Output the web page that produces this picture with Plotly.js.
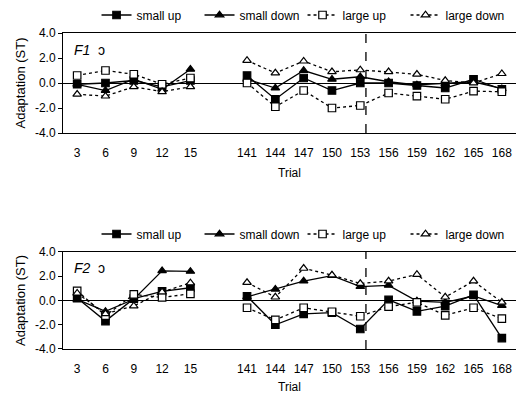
<!DOCTYPE html>
<html>
<head>
<meta charset="utf-8">
<script src="https://cdn.plot.ly/plotly-3.0.1.min.js"></script>
<style>html,body{margin:0;padding:0;background:#fff;}#chart{width:516px;height:394px;}</style>
</head>
<body>
<div id="chart"></div>
<script>
// Categories (blank " " is the visual gap between trial 15 and 141)
const trials = ["3","6","9","12","15"," ","141","144","147","150","153","156","159","162","165","168"];
const seriesNames = ["small up","small down","large up","large down"];
const yTickVals = [-4, -2, 0, 2, 4];
const yTickText = ["-4.0", "-2.0", "0.0", "2.0", "4.0"];
const panelLabels = ["F1", "F2"];
const vowel = "ɔ";

// Panel F1
const smallUpF1   = [-0.1, 0.0, 0.2, -0.3, 0.2, null, 0.6, -1.3, 0.4, -0.6, 0.0, 0.0, -0.2, -0.4, 0.3, -0.5];
const smallDownF1 = [-0.1, -0.6, 0.3, -0.5, 1.1, null, 0.3, -0.4, 1.0, 0.3, 0.5, 0.1, -0.15, -0.05, 0.1, -0.45];
const largeUpF1   = [0.6, 1.0, 0.7, -0.1, 0.4, null, 0.0, -1.9, -0.6, -2.0, -1.8, -0.8, -1.05, -1.3, -0.65, -0.7];
const largeDownF1 = [-0.9, -1.05, -0.3, -0.7, -0.3, null, 1.8, 0.8, 1.75, 0.9, 1.05, 0.9, 0.7, 0.2, 0.0, 0.75];

// Panel F2
const smallUpF2   = [0.2, -1.7, 0.15, 0.75, 1.05, null, 0.35, -2.0, -1.1, -1.0, -2.35, 0.05, -0.9, -0.47, 0.47, -3.1];
const smallDownF2 = [0.1, -0.9, 0.1, 2.45, 2.4, null, 0.3, 0.93, 1.6, 2.05, 1.15, 1.25, -0.05, -0.15, 0.37, -0.42];
const largeUpF2   = [0.8, -1.25, 0.5, 0.25, 0.55, null, -0.6, -1.6, -0.6, -0.93, -1.3, -0.5, -0.15, -1.23, -0.6, -1.5];
const largeDownF2 = [0.6, -1.1, -0.45, 0.7, 1.45, null, 1.48, 0.28, 2.65, 2.1, 1.4, 1.6, 2.15, 0.28, 1.6, -0.15];

// dashed divider position (just after trial 153)
const dividerAfter = "153";

const FONT = "Liberation Sans, Arial, sans-serif";
const styles = [
  {dash: "solid", symbol: "square", fill: "#000"},
  {dash: "solid", symbol: "triangle-up", fill: "#000"},
  {dash: "dot", symbol: "square", fill: "#fff"},
  {dash: "dot", symbol: "triangle-up", fill: "#fff"}
];

function mk(y, i, xa, ya, leg) {
  const s = styles[i];
  return {
    x: trials, y: y, name: seriesNames[i], type: "scatter", mode: "lines+markers",
    xaxis: xa, yaxis: ya, legend: leg, connectgaps: false,
    line: {color: "#000", width: 1.3, dash: s.dash},
    marker: {symbol: s.symbol, size: 7.5, color: s.fill, line: {color: "#000", width: 1.2}}
  };
}

const data = [
  mk(smallUpF1, 0, "x", "y", "legend"),
  mk(smallDownF1, 1, "x", "y", "legend"),
  mk(largeUpF1, 2, "x", "y", "legend"),
  mk(largeDownF1, 3, "x", "y", "legend"),
  mk(smallUpF2, 0, "x2", "y2", "legend2"),
  mk(smallDownF2, 1, "x2", "y2", "legend2"),
  mk(largeUpF2, 2, "x2", "y2", "legend2"),
  mk(largeDownF2, 3, "x2", "y2", "legend2")
];

const divX = trials.indexOf(dividerAfter) + 0.2;

function xax(anchor) {
  return {
    anchor: anchor, domain: [0, 1], type: "category", categoryorder: "array", categoryarray: trials,
    range: [-0.5, 15.5], showgrid: false, zeroline: false,
    showline: true, mirror: true, linecolor: "#000", linewidth: 1.3,
    ticks: "outside", ticklen: 8, tickcolor: "rgba(0,0,0,0)",
    tickfont: {family: FONT, size: 12, color: "#000"},
    title: {text: "Trial", font: {family: FONT, size: 12, color: "#000"}, standoff: 10},
    fixedrange: true
  };
}
function yax(anchor, dom) {
  return {
    anchor: anchor, domain: dom, range: [-4, 4], tickvals: yTickVals, ticktext: yTickText,
    showgrid: false, zeroline: true, zerolinecolor: "#000", zerolinewidth: 1,
    showline: true, linecolor: "#000", linewidth: 1,
    ticks: "outside", ticklen: 4, tickcolor: "#000",
    tickfont: {family: FONT, size: 12, color: "#000"},
    title: {text: "Adaptation (ST)", font: {family: FONT, size: 13, color: "#000"}, standoff: 6},
    fixedrange: true
  };
}

const legendBase = {
  orientation: "h", xanchor: "left", yanchor: "middle",
  font: {family: FONT, size: 12, color: "#000"}, bgcolor: "rgba(0,0,0,0)",
  itemwidth: 30, tracegroupgap: 0, traceorder: "normal", entrywidth: 58
};

const layout = {
  width: 516, height: 394, autosize: false,
  margin: {l: 63, r: 0, t: 33, b: 45},
  paper_bgcolor: "#fff", plot_bgcolor: "#fff",
  font: {family: FONT, color: "#000"},
  xaxis: xax("y"), yaxis: yax("x", [0.6835, 1]),
  xaxis2: xax("y2"), yaxis2: yax("x2", [0, 0.307]),
  legend: Object.assign({}, legendBase, {x: 0.074, y: 1.057}),
  legend2: Object.assign({}, legendBase, {x: 0.074, y: 0.364}),
  shapes: [
    {type: "line", xref: "x", yref: "y domain", x0: divX, x1: divX, y0: 0, y1: 1, line: {color: "#000", width: 1.3, dash: "dash"}},
    {type: "line", xref: "x2", yref: "y2 domain", x0: divX, x1: divX, y0: 0, y1: 1, line: {color: "#000", width: 1.3, dash: "dash"}}
  ],
  annotations: [
    {xref: "x domain", yref: "y domain", x: 0.02, y: 0.83, xanchor: "left", yanchor: "middle", showarrow: false,
     text: "<i>" + panelLabels[0] + "</i>  " + vowel, font: {family: FONT, size: 14, color: "#000"}},
    {xref: "x2 domain", yref: "y2 domain", x: 0.02, y: 0.83, xanchor: "left", yanchor: "middle", showarrow: false,
     text: "<i>" + panelLabels[1] + "</i>  " + vowel, font: {family: FONT, size: 14, color: "#000"}}
  ]
};

Plotly.newPlot("chart", data, layout, {staticPlot: true, displayModeBar: false});
</script>
</body>
</html>
